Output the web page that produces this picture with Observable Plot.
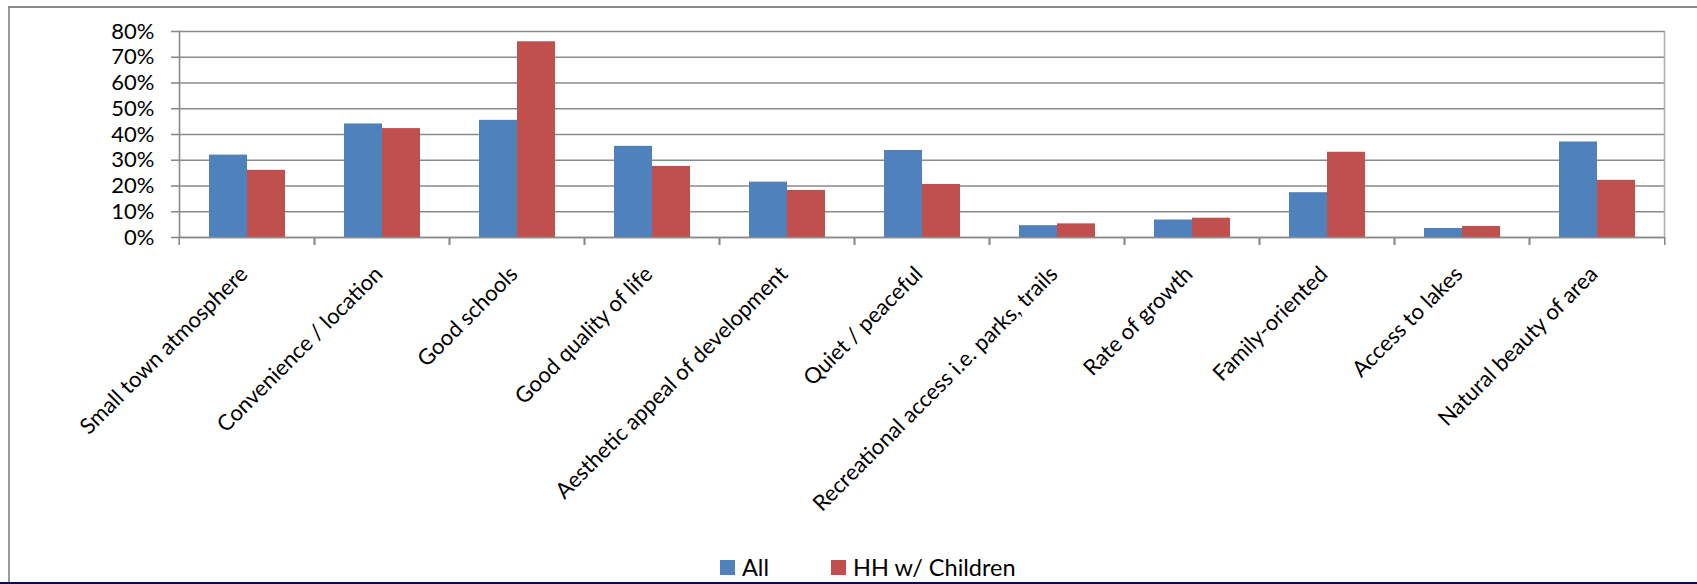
<!DOCTYPE html>
<html>
<head>
<meta charset="utf-8">
<script src="https://cdn.jsdelivr.net/npm/d3@7"></script>
<script src="https://cdn.jsdelivr.net/npm/@observablehq/plot@0.6"></script>
<style>
  html, body { margin: 0; padding: 0; background: #fff; }
  #wrap { position: relative; width: 1697px; height: 584px; overflow: hidden; font-family: Lato, sans-serif; background: #fff; }
  #chart svg { display: block; }
  #legend { position: absolute; left: 720px; top: 552px; height: 30px; display: flex; align-items: center; font-size: 23.5px; color: #000; white-space: nowrap; }
  #legend .item { display: flex; align-items: center; }
  #legend .sw { width: 15px; height: 15px; margin-right: 7px; }
  #legend .item + .item { margin-left: 62px; }
  .bl { position: absolute; left: 8px; top: 7px; width: 2px; bottom: 0; background: #9a9a9a; }
  .bt { position: absolute; left: 8px; top: 6px; right: 0; height: 2px; background: #8a8a8a; }
  .bb { position: absolute; left: 0; right: 0; bottom: 0; height: 2px; background: #0a0a5a; }
</style>
</head>
<body>
<div id="wrap">
  <div id="chart"></div>
  <div id="legend"></div>
  <div class="bl"></div>
  <div class="bt"></div>
  <div class="bb"></div>
</div>
<script>
const categories = [
  "Small town atmosphere",
  "Convenience / location",
  "Good schools",
  "Good quality of life",
  "Aesthetic appeal of development",
  "Quiet / peaceful",
  "Recreational access i.e. parks, trails",
  "Rate of growth",
  "Family-oriented",
  "Access to lakes",
  "Natural beauty of area"
];
const seriesNames = ["All", "HH w/ Children"];
const allValues = [0.32, 0.441, 0.455, 0.354, 0.215, 0.338, 0.046, 0.068, 0.174, 0.035, 0.371];
const hhValues  = [0.261, 0.423, 0.760, 0.276, 0.183, 0.206, 0.053, 0.075, 0.331, 0.043, 0.222];
const yTicks = [0, 0.1, 0.2, 0.3, 0.4, 0.5, 0.6, 0.7, 0.8];
const yTickLabels = ["0%", "10%", "20%", "30%", "40%", "50%", "60%", "70%", "80%"];
const seriesColors = ["#4F81BD", "#C0504D"];

const data = categories.flatMap((c, i) => [
  {category: c, series: seriesNames[0], value: allValues[i]},
  {category: c, series: seriesNames[1], value: hhValues[i]}
]);

const W = 1697, H = 548;
const mL = 176, mR = 30, mT = 31, axisY0 = 237;
const step = (W - mL - mR) / categories.length;
const gridColor = "#8a8a8a";

const chart = Plot.plot({
  width: W,
  height: H,
  marginLeft: mL,
  marginRight: mR,
  marginTop: mT,
  marginBottom: H - axisY0,
  style: {fontFamily: "Lato, sans-serif", background: "transparent", color: "#000", overflow: "visible"},
  fx: {domain: categories, padding: 0, label: null},
  x: {domain: seriesNames, paddingInner: 0, paddingOuter: 0.75, axis: null},
  y: {domain: [0, 0.8], label: null},
  color: {domain: seriesNames, range: seriesColors},
  marks: [
    Plot.gridY(yTicks, {stroke: gridColor, strokeOpacity: 1, strokeWidth: 1.6}),
    Plot.barY(data, {fx: "category", x: "series", y: "value", fill: "series"}),
    Plot.ruleY([0], {stroke: gridColor, strokeWidth: 1.6}),
    Plot.frame({anchor: "left", facetAnchor: "left", stroke: gridColor, strokeWidth: 1.6}),
    Plot.frame({anchor: "right", facetAnchor: "right", stroke: "#b0b0b0", strokeWidth: 1.6}),
    Plot.axisY(yTicks, {
      tickSize: 8, tickPadding: 17, fontSize: 22, label: null,
      stroke: gridColor, strokeWidth: 1.6, fill: "#000",
      tickFormat: (d, i) => yTickLabels[yTicks.indexOf(d)]
    }),
    Plot.axisFx({anchor: "bottom", tickSize: 8, fill: null, stroke: gridColor, strokeWidth: 1.6, dx: -step / 2, label: null}),
    Plot.axisFx([categories[categories.length - 1]], {anchor: "bottom", tickSize: 8, fill: null, stroke: gridColor, strokeWidth: 1.6, dx: step / 2, label: null}),
    Plot.axisFx({anchor: "bottom", tickSize: 0, tickRotate: -45, tickPadding: 33, dx: -3, fontSize: 22, fill: "#000", label: null})
  ]
});
document.getElementById("chart").appendChild(chart);

const legend = document.getElementById("legend");
seriesNames.forEach((name, i) => {
  const item = document.createElement("div");
  item.className = "item";
  const sw = document.createElement("span");
  sw.className = "sw";
  sw.style.background = seriesColors[i];
  const t = document.createElement("span");
  t.textContent = name;
  item.appendChild(sw);
  item.appendChild(t);
  legend.appendChild(item);
});
</script>
</body>
</html>
